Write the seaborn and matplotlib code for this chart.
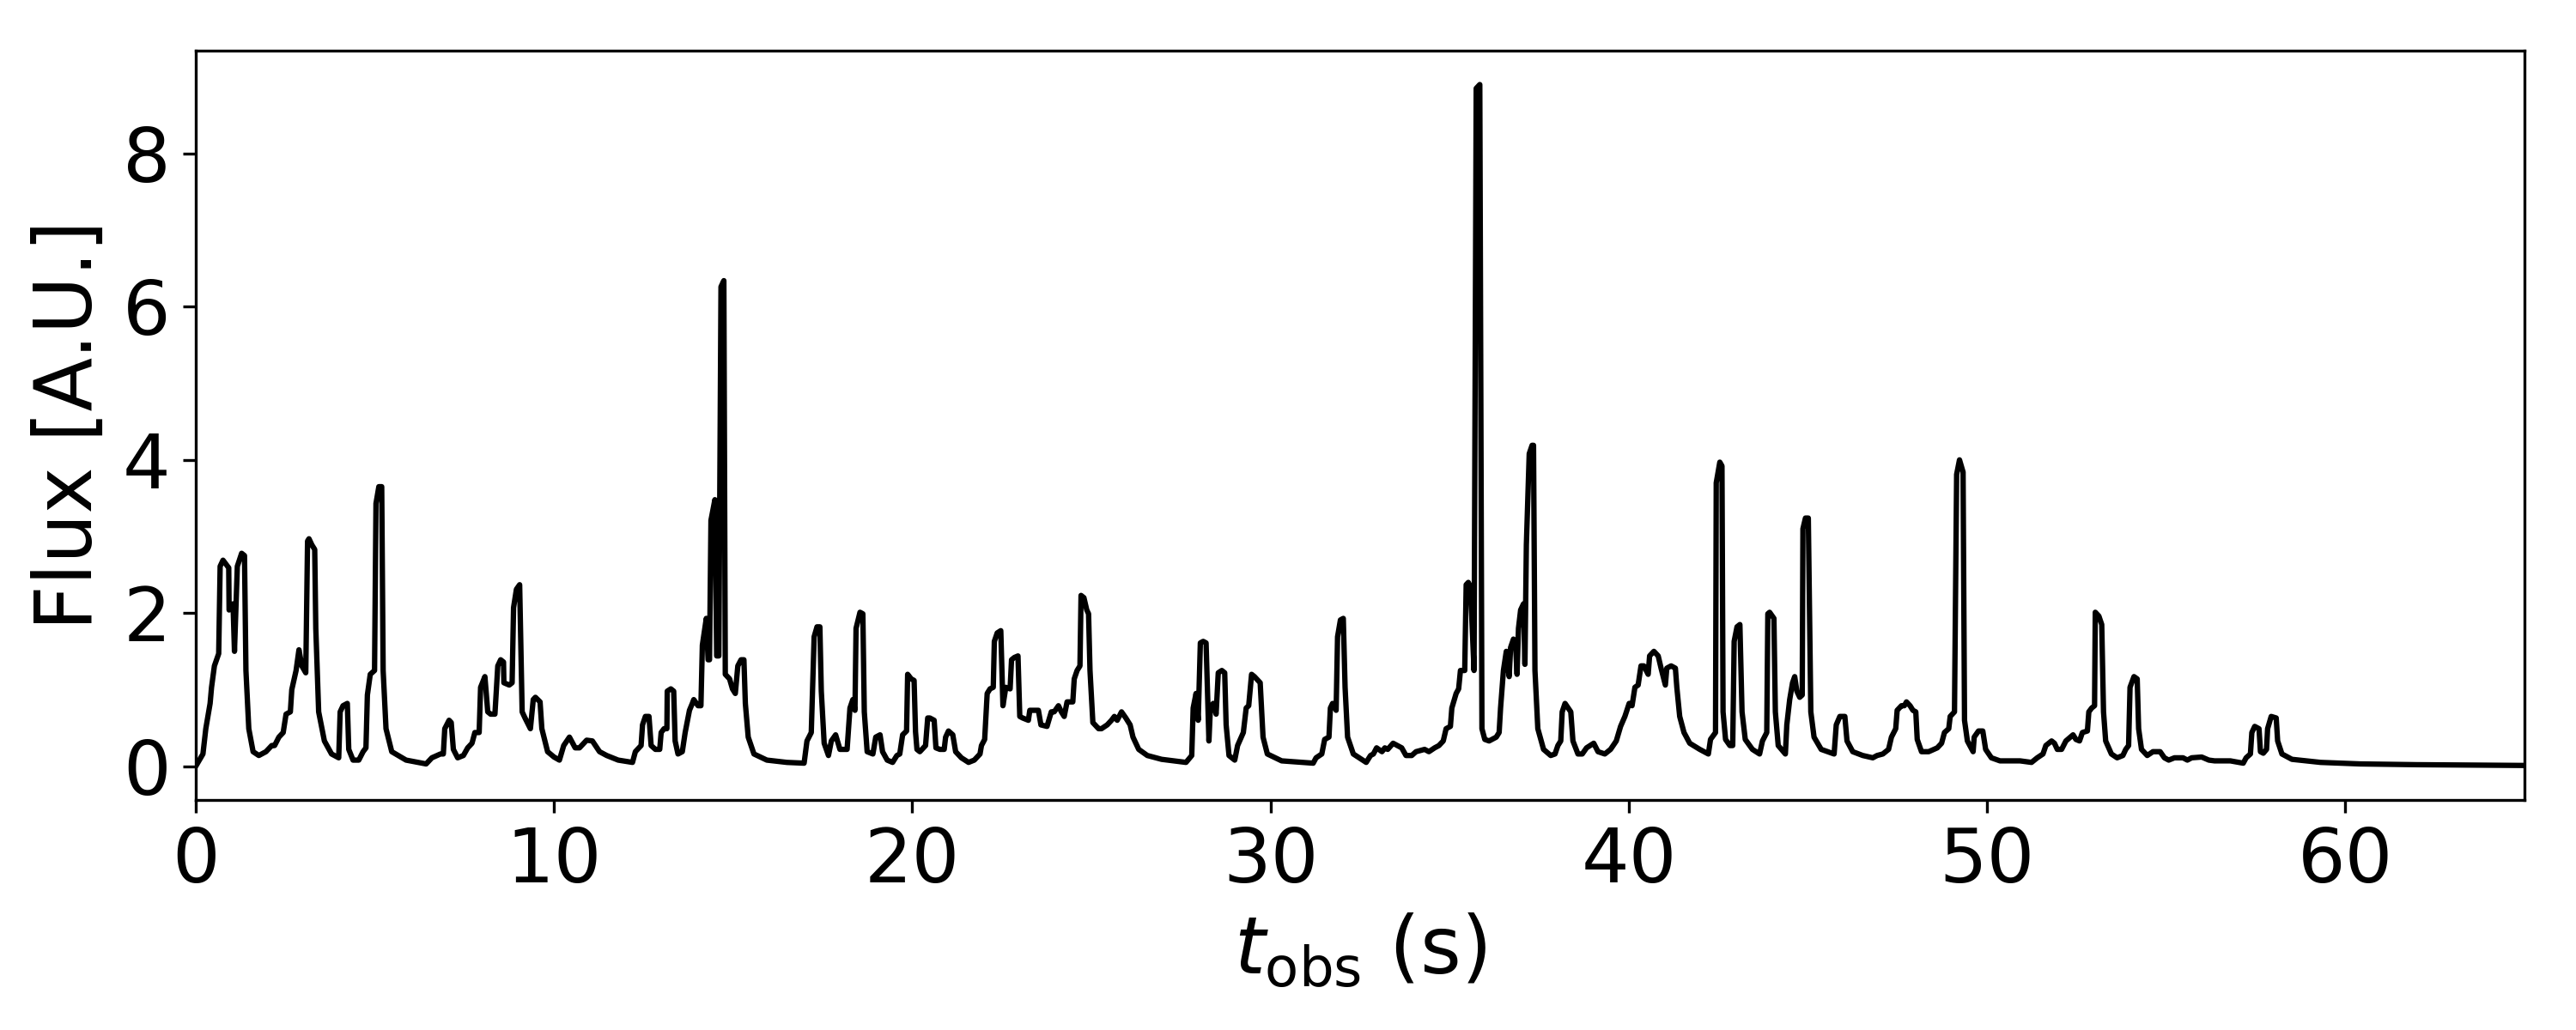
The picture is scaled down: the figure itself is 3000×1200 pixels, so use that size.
import numpy as np
import pandas as pd
import matplotlib
matplotlib.use("Agg")
import matplotlib.pyplot as plt
import seaborn as sns

# light curve, split in 10 s chunks
t_0_10 = [0.0, 0.2, 0.28, 0.4, 0.44, 0.52, 0.64, 0.68, 0.76, 0.92, 0.93, 1.04, 1.08, 1.16, 1.28, 1.36, 1.40,
          1.48, 1.60, 1.76, 1.96, 2.12, 2.20, 2.32, 2.44, 2.52, 2.64, 2.68, 2.80, 2.88, 2.96, 3.07, 3.12, 3.16,
          3.24, 3.32, 3.35, 3.43, 3.59, 3.79, 3.99, 4.03, 4.11, 4.23, 4.27, 4.39, 4.55, 4.67, 4.75, 4.79, 4.87,
          4.99, 5.03, 5.11, 5.19, 5.23, 5.31, 5.47, 5.87, 6.43, 6.59, 6.83, 6.91, 6.95, 7.07, 7.13, 7.19, 7.31,
          7.47, 7.59, 7.71, 7.79, 7.91, 7.95, 8.07, 8.15, 8.23, 8.35, 8.43, 8.51, 8.59, 8.60, 8.75, 8.83, 8.87,
          8.95, 9.04, 9.11, 9.19, 9.34, 9.42, 9.48, 9.61, 9.66, 9.82]
f_0_10 = [0.0, 0.16, 0.49, 0.82, 1.03, 1.31, 1.47, 2.61, 2.69, 2.59, 2.04, 2.12, 1.50, 2.61, 2.78, 2.75, 1.25,
          0.49, 0.19, 0.14, 0.19, 0.27, 0.27, 0.38, 0.44, 0.68, 0.71, 1.00, 1.25, 1.52, 1.31, 1.22, 2.94, 2.97,
          2.89, 2.83, 1.80, 0.71, 0.33, 0.16, 0.11, 0.71, 0.79, 0.82, 0.22, 0.08, 0.08, 0.19, 0.24, 0.93, 1.20,
          1.25, 3.43, 3.65, 3.65, 1.25, 0.49, 0.19, 0.08, 0.03, 0.11, 0.16, 0.16, 0.49, 0.60, 0.57, 0.22, 0.11,
          0.14, 0.24, 0.30, 0.44, 0.44, 1.03, 1.17, 0.71, 0.68, 0.68, 1.31, 1.39, 1.36, 1.09, 1.06, 1.09, 2.07,
          2.31, 2.37, 0.71, 0.63, 0.49, 0.87, 0.90, 0.84, 0.49, 0.19]

t_10_20 = [10.0, 10.15, 10.27, 10.43, 10.59, 10.71, 10.91, 11.07, 11.27, 11.47, 11.79, 12.19, 12.27, 12.43,
           12.47, 12.55, 12.65, 12.71, 12.83, 12.95, 12.99, 13.07, 13.15, 13.16, 13.26, 13.34, 13.38, 13.46,
           13.58, 13.66, 13.78, 13.86, 13.90, 14.02, 14.10, 14.14, 14.25, 14.30, 14.34, 14.38, 14.49, 14.54,
           14.60, 14.66, 14.74, 14.78, 14.90, 14.98, 15.06, 15.13, 15.22, 15.30, 15.34, 15.42, 15.58, 15.94,
           16.50, 16.98, 17.06, 17.18, 17.26, 17.34, 17.42, 17.46, 17.54, 17.66, 17.74, 17.86, 17.98, 18.18,
           18.26, 18.34, 18.40, 18.43, 18.54, 18.62, 18.66, 18.74, 18.90, 18.98, 19.10, 19.17, 19.30, 19.45,
           19.57, 19.65, 19.73, 19.84, 19.87, 19.97, 20.05]
f_10_20 = [0.12, 0.08, 0.27, 0.38, 0.24, 0.24, 0.34, 0.33, 0.19, 0.14, 0.08, 0.05, 0.19, 0.27, 0.54, 0.65,
           0.65, 0.27, 0.22, 0.22, 0.44, 0.49, 0.49, 0.98, 1.01, 0.98, 0.33, 0.16, 0.19, 0.44, 0.73, 0.82, 0.87,
           0.79, 0.79, 1.58, 1.93, 1.39, 1.39, 3.21, 3.48, 1.44, 1.44, 6.26, 6.34, 1.20, 1.14, 1.01, 0.95, 1.31,
           1.39, 1.39, 0.82, 0.38, 0.16, 0.08, 0.05, 0.04, 0.33, 0.44, 1.69, 1.82, 1.82, 0.98, 0.30, 0.14, 0.33,
           0.41, 0.22, 0.22, 0.76, 0.87, 0.73, 1.80, 2.01, 1.99, 0.71, 0.19, 0.16, 0.38, 0.41, 0.19, 0.08, 0.05,
           0.14, 0.16, 0.41, 0.46, 1.20, 1.14, 1.12]

t_20_30 = [20.09, 20.13, 20.21, 20.37, 20.43, 20.49, 20.61, 20.66, 20.77, 20.89, 20.93, 21.01, 21.13, 21.21,
           21.37, 21.57, 21.73, 21.89, 21.93, 22.02, 22.09, 22.17, 22.26, 22.29, 22.37, 22.47, 22.53, 22.61,
           22.73, 22.77, 22.85, 22.95, 23.00, 23.08, 23.24, 23.28, 23.36, 23.52, 23.59, 23.76, 23.88, 23.96,
           24.08, 24.16, 24.24, 24.32, 24.48, 24.52, 24.60, 24.68, 24.71, 24.79, 24.87, 24.92, 24.96, 25.04,
           25.20, 25.28, 25.44, 25.56, 25.64, 25.72, 25.84, 25.96, 26.08, 26.16, 26.32, 26.56, 26.96, 27.64,
           27.80, 27.84, 27.92, 27.98, 28.04, 28.12, 28.20, 28.28, 28.32, 28.40, 28.48, 28.54, 28.64, 28.72,
           28.76, 28.84, 29.00, 29.08, 29.24, 29.32, 29.39, 29.47, 29.55, 29.71, 29.79, 29.91]
f_20_30 = [0.45, 0.22, 0.19, 0.27, 0.63, 0.63, 0.60, 0.24, 0.22, 0.22, 0.38, 0.46, 0.41, 0.19, 0.11, 0.05,
           0.08, 0.16, 0.27, 0.35, 0.95, 1.01, 1.03, 1.63, 1.74, 1.77, 0.79, 1.03, 1.01, 1.39, 1.42, 1.44, 0.65,
           0.63, 0.60, 0.73, 0.73, 0.73, 0.54, 0.52, 0.71, 0.71, 0.79, 0.71, 0.65, 0.84, 0.84, 1.14, 1.25, 1.31,
           2.23, 2.20, 2.04, 1.99, 1.25, 0.57, 0.49, 0.49, 0.54, 0.60, 0.65, 0.60, 0.71, 0.63, 0.54, 0.38, 0.22,
           0.14, 0.09, 0.05, 0.14, 0.76, 0.95, 0.60, 1.61, 1.63, 1.61, 0.33, 0.76, 0.82, 0.68, 1.22, 1.25, 1.22,
           0.54, 0.14, 0.08, 0.27, 0.44, 0.76, 0.79, 1.20, 1.17, 1.09, 0.38, 0.16]

t_30_40 = [30.31, 31.19, 31.27, 31.43, 31.51, 31.63, 31.67, 31.73, 31.83, 31.87, 31.95, 32.03, 32.08, 32.15,
           32.31, 32.67, 32.79, 32.87, 32.96, 33.11, 33.19, 33.27, 33.42, 33.66, 33.78, 33.94, 34.06, 34.30,
           34.42, 34.58, 34.70, 34.82, 34.90, 35.02, 35.06, 35.18, 35.25, 35.30, 35.42, 35.46, 35.52, 35.58,
           35.68, 35.74, 35.84, 35.90, 35.98, 36.10, 36.30, 36.38, 36.42, 36.50, 36.58, 36.66, 36.70, 36.78,
           36.84, 36.88, 36.92, 36.98, 37.06, 37.10, 37.14, 37.22, 37.30, 37.34, 37.38, 37.46, 37.62, 37.82,
           37.94, 38.02, 38.10, 38.14, 38.22, 38.38, 38.44, 38.58, 38.70, 38.82, 39.02, 39.14, 39.33, 39.49,
           39.65, 39.77, 39.89, 40.01, 40.09, 40.17]
f_30_40 = [0.07, 0.04, 0.11, 0.16, 0.35, 0.38, 0.76, 0.82, 0.73, 1.69, 1.91, 1.93, 1.03, 0.38, 0.16, 0.05,
           0.14, 0.16, 0.24, 0.19, 0.24, 0.22, 0.30, 0.24, 0.14, 0.14, 0.19, 0.22, 0.19, 0.24, 0.27, 0.33, 0.49,
           0.52, 0.76, 0.95, 1.01, 1.25, 1.25, 2.37, 2.40, 2.34, 1.25, 8.85, 8.90, 0.49, 0.35, 0.33, 0.38, 0.44,
           0.76, 1.25, 1.50, 1.17, 1.55, 1.66, 1.58, 1.20, 1.80, 2.04, 2.12, 1.33, 2.89, 4.08, 4.19, 4.19, 1.25,
           0.49, 0.22, 0.14, 0.16, 0.27, 0.33, 0.71, 0.82, 0.71, 0.33, 0.16, 0.16, 0.24, 0.30, 0.19, 0.16, 0.22,
           0.33, 0.52, 0.65, 0.82, 0.79, 1.03]

t_40_50 = [40.26, 40.34, 40.42, 40.54, 40.58, 40.70, 40.82, 40.90, 41.02, 41.06, 41.18, 41.30, 41.34, 41.42,
           41.54, 41.70, 41.98, 42.22, 42.28, 42.42, 42.44, 42.54, 42.60, 42.63, 42.70, 42.82, 42.90, 42.94,
           43.02, 43.10, 43.16, 43.25, 43.45, 43.65, 43.73, 43.85, 43.88, 43.93, 44.05, 44.09, 44.17, 44.37,
           44.41, 44.49, 44.57, 44.63, 44.69, 44.77, 44.84, 44.86, 44.93, 45.01, 45.08, 45.17, 45.37, 45.73,
           45.79, 45.89, 46.03, 46.09, 46.25, 46.53, 46.81, 46.93, 47.09, 47.25, 47.33, 47.45, 47.49, 47.61,
           47.69, 47.75, 47.85, 47.93, 48.01, 48.05, 48.17, 48.37, 48.61, 48.73, 48.81, 48.93, 48.97, 49.09,
           49.15, 49.23, 49.33, 49.37, 49.45, 49.61, 49.64, 49.76, 49.88, 49.96, 50.12]
f_40_50 = [1.06, 1.31, 1.31, 1.20, 1.44, 1.50, 1.44, 1.28, 1.06, 1.28, 1.31, 1.28, 1.03, 0.65, 0.44, 0.30,
           0.22, 0.16, 0.35, 0.44, 3.70, 3.97, 3.92, 0.71, 0.35, 0.27, 0.27, 1.63, 1.82, 1.85, 0.71, 0.35, 0.22,
           0.16, 0.33, 0.44, 1.99, 2.01, 1.93, 0.71, 0.27, 0.16, 0.54, 0.87, 1.09, 1.17, 0.98, 0.90, 0.93, 3.10,
           3.24, 3.24, 0.71, 0.38, 0.22, 0.16, 0.54, 0.65, 0.65, 0.33, 0.19, 0.14, 0.11, 0.14, 0.16, 0.22, 0.38,
           0.49, 0.73, 0.79, 0.79, 0.84, 0.79, 0.73, 0.71, 0.35, 0.19, 0.19, 0.24, 0.30, 0.44, 0.49, 0.65, 0.71,
           3.81, 4.00, 3.84, 0.60, 0.33, 0.19, 0.38, 0.46, 0.46, 0.22, 0.11]

t_50_65 = [50.36, 50.92, 51.24, 51.40, 51.56, 51.64, 51.80, 51.88, 51.96, 52.08, 52.20, 52.40, 52.48, 52.58,
           52.66, 52.80, 52.84, 52.92, 53.00, 53.02, 53.12, 53.20, 53.25, 53.31, 53.47, 53.63, 53.79, 53.87,
           53.95, 53.99, 54.10, 54.19, 54.23, 54.31, 54.47, 54.63, 54.83, 54.95, 55.07, 55.23, 55.47, 55.59,
           55.71, 55.99, 56.19, 56.35, 56.79, 57.15, 57.23, 57.35, 57.39, 57.47, 57.59, 57.63, 57.71, 57.80,
           57.83, 57.93, 58.07, 58.11, 58.23, 58.51, 59.31, 60.42, 62.0, 65.0]
f_50_65 = [0.07, 0.07, 0.05, 0.11, 0.16, 0.27, 0.33, 0.30, 0.22, 0.22, 0.33, 0.41, 0.35, 0.33, 0.44, 0.46,
           0.71, 0.76, 0.79, 2.01, 1.96, 1.85, 0.71, 0.33, 0.16, 0.11, 0.14, 0.22, 0.27, 1.03, 1.17, 1.14, 0.49,
           0.22, 0.14, 0.19, 0.19, 0.11, 0.08, 0.11, 0.11, 0.08, 0.11, 0.12, 0.08, 0.07, 0.07, 0.04, 0.11, 0.16,
           0.44, 0.52, 0.49, 0.19, 0.17, 0.22, 0.49, 0.65, 0.63, 0.33, 0.16, 0.09, 0.05, 0.03, 0.02, 0.01]

x_ticks = [0, 10, 20, 30, 40, 50, 60]
y_ticks = [0, 2, 4, 6, 8]

t_parts = [t_0_10, t_10_20, t_20_30, t_30_40, t_40_50, t_50_65]
f_parts = [f_0_10, f_10_20, f_20_30, f_30_40, f_40_50, f_50_65]
for tp, fp in zip(t_parts, f_parts):
    assert len(tp) == len(fp), (len(tp), len(fp), tp[0])

df = pd.DataFrame({
    "t": np.concatenate(t_parts),
    "flux": np.concatenate(f_parts),
})

sns.set_style("ticks", {"axes.edgecolor": "black", "text.color": "black",
                        "axes.labelcolor": "black", "xtick.color": "black",
                        "ytick.color": "black"})
plt.rcParams["font.family"] = ["DejaVu Sans"]
plt.rcParams["mathtext.fontset"] = "dejavusans"

fig, ax = plt.subplots(figsize=(10, 4), dpi=300)
sns.lineplot(data=df, x="t", y="flux", color="black", linewidth=1.5,
             estimator=None, sort=False, ax=ax)

ax.set_xlim(0, 65)
ax.set_xticks(x_ticks)
ax.set_yticks(y_ticks)
ax.tick_params(labelsize=21, width=0.8, length=3.5, colors="black")
ax.set_xlabel(r"$t_{\rm obs}$ (s)", fontsize=22)
ax.set_ylabel("Flux [A.U.]", fontsize=22)
for s in ax.spines.values():
    s.set_linewidth(0.8)
    s.set_color("black")

fig.subplots_adjust(left=0.076, right=0.980, top=0.951, bottom=0.223)
fig.savefig("out.png", dpi=300)
